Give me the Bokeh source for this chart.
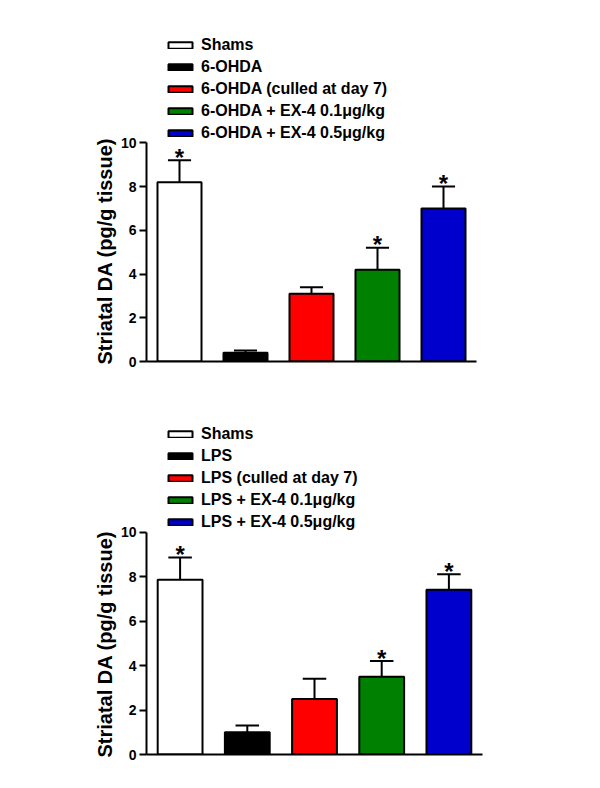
from bokeh.plotting import figure
from bokeh.layouts import column
from bokeh.models import (ColumnDataSource, Legend, LegendItem, Range1d,
                          FixedTicker, Title)
from bokeh.core.properties import value
from bokeh.embed import file_html
from bokeh.resources import INLINE

# ---- data ----
groups = [0, 1, 2, 3, 4]
bar_colors = ["#FFFFFF", "#000000", "#FF0000", "#008000", "#0000CC"]

top_labels = ["Shams", "6-OHDA", "6-OHDA (culled at day 7)",
              "6-OHDA + EX-4 0.1\u03bcg/kg", "6-OHDA + EX-4 0.5\u03bcg/kg"]
top_means = [8.2, 0.4, 3.1, 4.2, 7.0]
top_upper = [9.2, 0.5, 3.4, 5.2, 8.0]
top_stars = ["*", "", "", "*", "*"]

bot_labels = ["Shams", "LPS", "LPS (culled at day 7)",
              "LPS + EX-4 0.1\u03bcg/kg", "LPS + EX-4 0.5\u03bcg/kg"]
bot_means = [7.85, 1.0, 2.5, 3.5, 7.4]
bot_upper = [8.85, 1.3, 3.4, 4.2, 8.1]
bot_stars = ["*", "", "", "*", "*"]

y_ticks = [0, 2, 4, 6, 8, 10]
y_axis_span = (0, 10)
y_label = "Striatal DA (pg/g tissue)"

FONT = "Liberation Sans"
BAR_W = 0.667
CAP = 0.35
Y_TOP = 16  # frame extends above the axis to hold the legend


def panel(labels, means, upper, stars, frame_w, frame_h, b_left, b_right,
          b_top, b_bottom, leg_x, leg_y):
    p = figure(frame_width=frame_w, frame_height=frame_h,
               min_border_left=b_left, min_border_right=b_right,
               min_border_top=b_top, min_border_bottom=b_bottom,
               x_range=Range1d(-0.5, 4.5), y_range=Range1d(0, Y_TOP),
               output_backend="svg", toolbar_location=None,
               background_fill_color="white", border_fill_color="white")
    p.outline_line_color = None
    p.xgrid.grid_line_color = None
    p.ygrid.grid_line_color = None

    src = ColumnDataSource(dict(
        x=groups, top=means, up=upper, color=bar_colors, star=stars,
        cl=[g - CAP / 2 for g in groups], cr=[g + CAP / 2 for g in groups],
    ))
    p.segment(x0="x", y0="top", x1="x", y1="up", source=src,
              line_color="black", line_width=2)
    p.segment(x0="cl", y0="up", x1="cr", y1="up", source=src,
              line_color="black", line_width=2)
    bars = p.vbar(x="x", top="top", bottom=0, width=BAR_W, source=src,
                  fill_color="color", line_color="black", line_width=2)
    p.text(x="x", y="up", text="star", source=src, text_align="center",
           text_baseline="alphabetic", y_offset=-3,
           text_font=value(FONT), text_font_style="bold",
           text_font_size="24px", text_color="black")

    items = [LegendItem(label=lab, renderers=[bars], index=i)
             for i, lab in enumerate(labels)]
    leg = Legend(items=items, location=(leg_x, leg_y),
                 glyph_width=30, glyph_height=8, label_height=22,
                 spacing=0, padding=0, margin=0, label_standoff=6,
                 border_line_color=None, background_fill_alpha=0,
                 label_text_font=FONT, label_text_font_style="bold",
                 label_text_font_size="16px", label_text_color="black")
    p.add_layout(leg)

    # y axis
    ya = p.yaxis[0]
    ya.bounds = y_axis_span
    ya.ticker = FixedTicker(ticks=y_ticks)
    ya.minor_tick_line_color = None
    ya.major_tick_in = 0
    ya.major_tick_out = 7
    ya.major_tick_line_width = 2
    ya.major_tick_line_color = "black"
    ya.axis_line_width = 2
    ya.axis_line_color = "black"
    ya.major_label_text_font = FONT
    ya.major_label_text_font_style = "bold"
    ya.major_label_text_font_size = "14px"
    ya.major_label_text_color = "black"
    ya.major_label_standoff = 3

    # y axis title, aligned with the bottom of the axis (not the tall frame)
    ytitle = Title(text=y_label, align="left", offset=-3, standoff=4,
                   text_font=FONT, text_font_style="bold",
                   text_font_size="20px", text_color="black")
    p.add_layout(ytitle, "left")

    # x axis (line only)
    xa = p.xaxis[0]
    xa.ticker = FixedTicker(ticks=[])
    xa.major_tick_line_color = None
    xa.minor_tick_line_color = None
    xa.major_label_text_alpha = 0
    xa.axis_line_width = 2
    xa.axis_line_color = "black"
    return p


p_top = panel(top_labels, top_means, top_upper, top_stars,
              330, 350, 146, 116, 11, 33, 19, 217)
p_bot = panel(bot_labels, bot_means, bot_upper, bot_stars,
              336, 356, 146, 110, 4, 26, 19, 221)

layout = column(p_top, p_bot, spacing=0)
open("out.html", "w").write(file_html(layout, INLINE))
